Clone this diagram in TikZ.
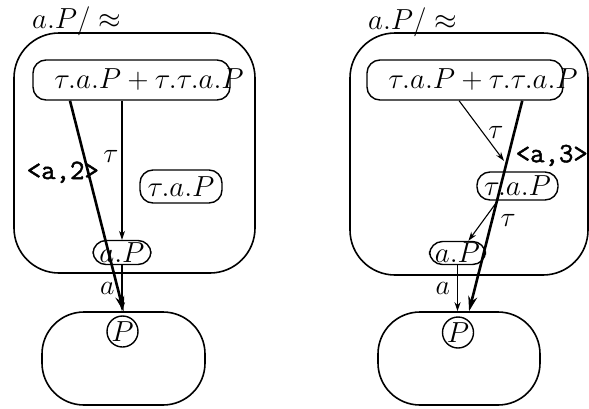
\RequirePackage{fix-cm}
\documentclass[tikz,border=0pt]{standalone}
\usepackage{fontspec,tikz}
\usetikzlibrary{arrows.meta,calc}
\newfontfamily\ttbold[FakeBold=1.6]{Latin Modern Mono}

\begin{document}
\begin{tikzpicture}[x=1pt,y=-1pt,
  txt/.style={inner sep=0pt,font=\fontsize{29}{34}\selectfont},
  lbl/.style={inner sep=1pt,font=\fontsize{28}{34}\selectfont},
  tlbl/.style={inner sep=0pt,font=\fontsize{28}{34}\selectfont\ttbold},
  cls/.style={draw,line width=1.6pt,rounded corners=45pt,inner sep=0pt},
  st/.style={draw,line width=1.4pt,rounded corners=13pt,inner sep=0pt,font=\fontsize{29}{34}\selectfont},
  bigst/.style={draw,line width=1.6pt,rounded corners=42pt,inner sep=0pt},
  pst/.style={draw,circle,line width=1.4pt,inner sep=0pt,minimum size=31pt,font=\fontsize{29}{34}\selectfont},
  tr/.style={line width=1.1pt,-{Stealth[length=9pt,width=6pt]}},
  wk/.style={line width=2.6pt,-{Stealth[length=15pt,width=9pt]}}]
\path[use as bounding box] (0,0) rectangle (589,408);
% left class
\node[cls,minimum width=241,minimum height=240] (cls1) at (134.5,153) {};
\node[txt,anchor=base west] (ttl1) at (32,28) {$a.P/\approx$};
\node[st,minimum width=197,minimum height=40] (sum1) at (131.5,80) {};
\node[txt,anchor=base] (sum1t) at (149,88) {$\tau.a.P+\tau.\tau.a.P$};
\node[st,minimum width=82,minimum height=33] (tap1) at (181,186.5) {$\tau.a.P$};
\node[st,minimum width=58,minimum height=24] (ap1) at (122,252.5) {$a.P$};
\node[bigst,minimum width=163,minimum height=93] (bot1) at (123.5,358.5) {};
\node[pst] (pp1) at (122.5,331.5) {$P$};
\draw[tr] (ap1.north |- sum1.south) -- node[lbl,pos=.4,left=2pt] {$\tau$} (ap1.north);
\draw[tr] (ap1.south) -- node[lbl,left=6pt] {$a$} (ap1.south |- bot1.north);
\draw[wk] ($(sum1.south west)!.19!(sum1.south east)$) -- node[tlbl,pos=.34,anchor=east,xshift=12] {<a,2>} (bot1.north);
% right class
\node[cls,minimum width=238,minimum height=242] (cls2) at (469,154) {};
\node[txt,anchor=base west] (ttl2) at (368,29) {$a.P/\approx$};
\node[st,minimum width=196,minimum height=40] (sum2) at (465,80) {};
\node[txt,anchor=base] (sum2t) at (483,88) {$\tau.a.P+\tau.\tau.a.P$};
\node[st,minimum width=81,minimum height=28] (tap2) at (517.5,186) {$\tau.a.P$};
\node[st,minimum width=56,minimum height=23] (ap2) at (457.5,253) {$a.P$};
\node[bigst,minimum width=162,minimum height=93] (bot2) at (459,358.5) {};
\node[pst] (pp2) at (458,332.5) {$P$};
\draw[tr,shorten >=13pt] ($(sum2.south west)!.47!(sum2.south east)$) -- node[lbl,pos=.45,right=4pt] {$\tau$} ($(tap2.north west)!.43!(tap2.north east)$);
\draw[wk] ($(sum2.south west)!.79!(sum2.south east)$) -- node[tlbl,pos=.26,anchor=west,xshift=6] {<a,3>} (bot2.78);
\draw[tr] ($(tap2.south west)!.26!(tap2.south east)$) -- node[lbl,pos=.5,right=16pt] {$\tau$} ($(ap2.north west)!.69!(ap2.north east)$);
\draw[tr] (ap2.south) -- node[lbl,left=6pt] {$a$} (ap2.south |- bot2.north);
\end{tikzpicture}
\end{document}
